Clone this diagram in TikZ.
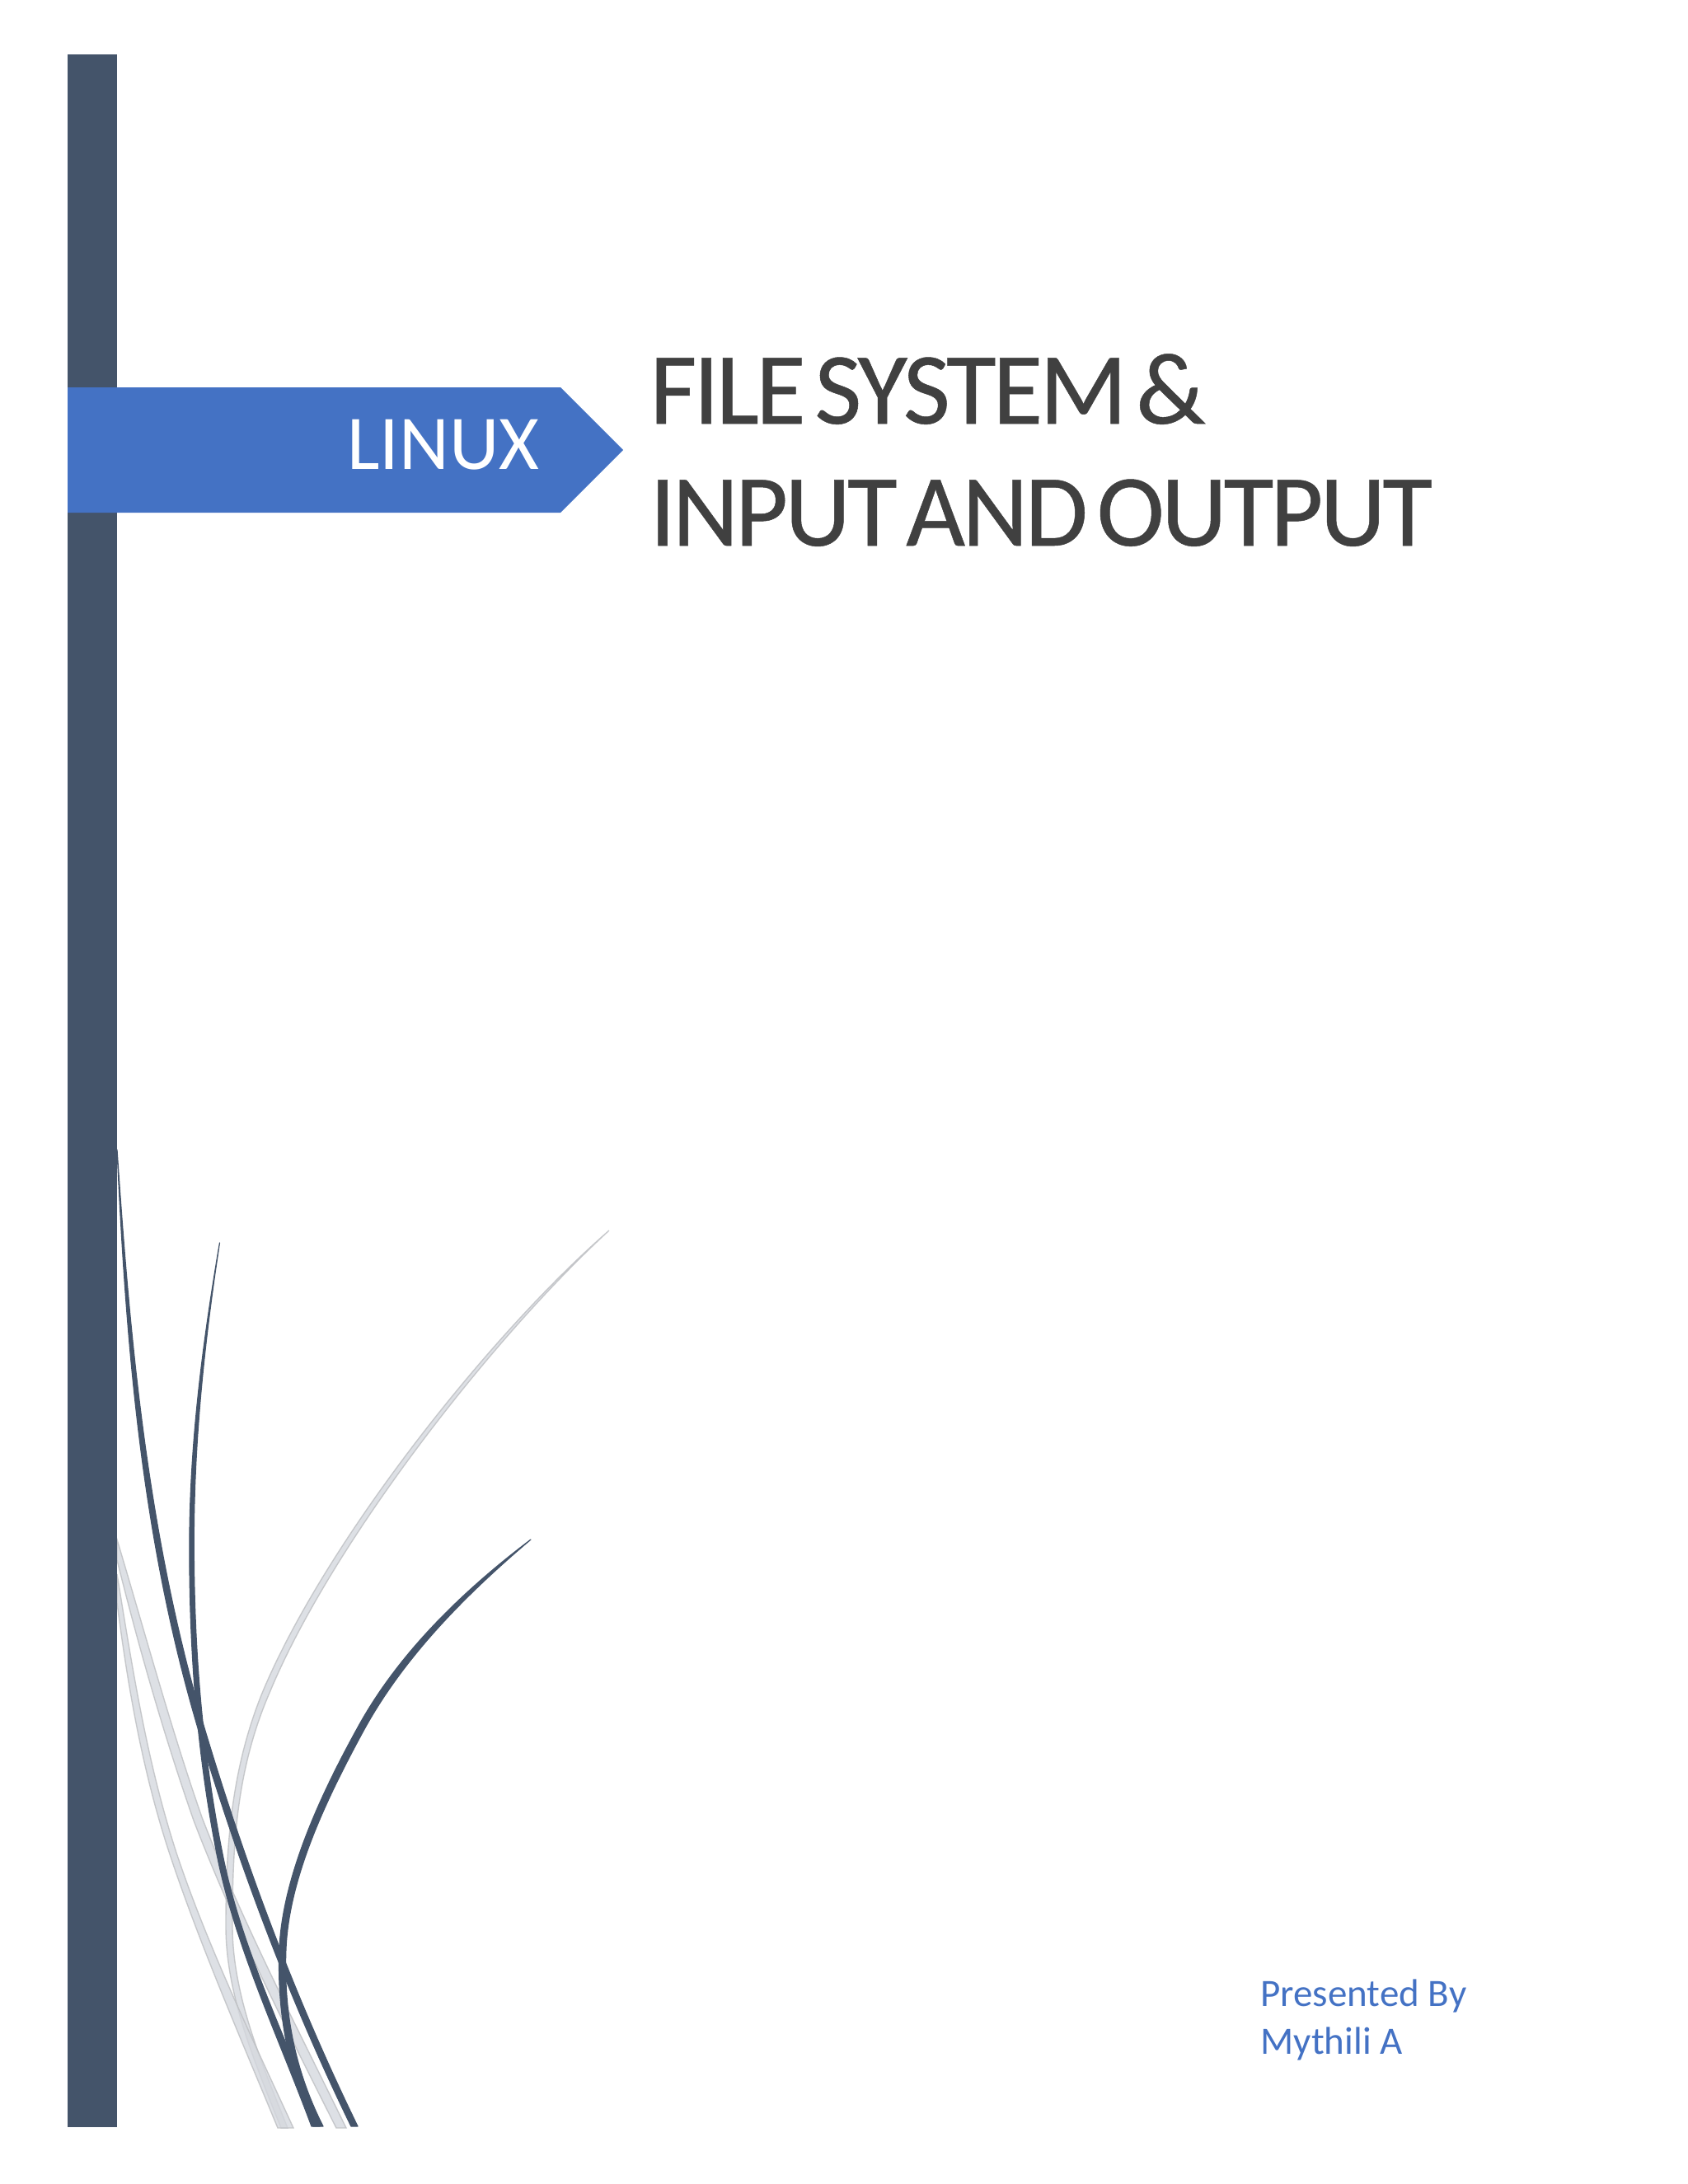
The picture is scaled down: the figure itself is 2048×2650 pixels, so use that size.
\documentclass[tikz,border=0pt]{standalone}
\usepackage{fontspec}
\usepackage{tikz}
\setmainfont{Carlito}
\newfontfamily\headfont[LetterSpace=-3.1,WordSpace=0.45,FakeBold=0.4]{Carlito}
\definecolor{barblue}{HTML}{44546A}
\definecolor{tagblue}{HTML}{4472C4}
\definecolor{headgray}{HTML}{404040}
\definecolor{lightblade}{HTML}{D5D8DE}
\definecolor{lightedge}{HTML}{BDBFC2}
\tikzset{
    darkleaf/.style={fill=barblue, draw=barblue, line width=.6pt, line join=round},
    paleleaf/.style={fill=lightblade, draw=lightedge, line width=.7pt, fill opacity=.8, draw opacity=.8},
    headtext/.style={anchor=base west, inner sep=0, text=headgray, font=\headfont\fontsize{62}{62}\selectfont},
    nametext/.style={anchor=base west, inner sep=0, text=tagblue, font=\fontsize{23.5}{23.5}\selectfont}
}
\begin{document}
\begin{tikzpicture}[x=.5pt,y=-.5pt]
    \useasboundingbox (0,0) rectangle (2048,2650);
    % pale leaves
    \draw[paleleaf] (739,1493) .. controls (596,1624) and (401,1875) .. (327,2054) .. controls (286,2149) and (282,2242) .. (282,2337) .. controls (282,2419) and (316,2500) .. (349,2582)
        -- (341,2582) .. controls (308,2500) and (274,2419) .. (274,2337) .. controls (274,2242) and (280,2147) .. (319,2052) .. controls (395,1871) and (593,1620) .. (739,1493) -- cycle;
    \draw[paleleaf] (142,1868) .. controls (177,1985) and (207,2096) .. (245,2205) .. controls (293,2330) and (358,2455) .. (420,2582)
        -- (408,2582) .. controls (346,2459) and (283,2334) .. (235,2209) .. controls (197,2100) and (167,1993) .. (142,1893) -- cycle;
    \draw[paleleaf] (142,1910) .. controls (162,2033) and (179,2140) .. (214,2248) .. controls (251,2359) and (304,2469) .. (356,2582)
        -- (337,2582) .. controls (292,2473) and (243,2361) .. (206,2250) .. controls (171,2144) and (154,2037) .. (142,1945) -- cycle;
    % dark leaves
    \filldraw[darkleaf] (142,1395) .. controls (158,1630) and (179,1865) .. (249,2100) .. controls (297,2260) and (357,2422) .. (434,2580)
        -- (426,2580) .. controls (349,2422) and (289,2260) .. (241,2100) .. controls (171,1865) and (153,1630) .. (142,1395) -- cycle;
    \filldraw[darkleaf] (266.5,1508) .. controls (247.5,1631) and (235,1753) .. (235.3,1876) .. controls (235.5,2001) and (245.3,2127) .. (270.5,2252) .. controls (292.5,2362) and (346,2472) .. (388,2580)
        -- (378,2580) .. controls (338,2472) and (285.5,2362) .. (263.5,2252) .. controls (238.7,2127) and (229.7,2001) .. (229.9,1876) .. controls (230,1753) and (245.5,1631) .. (266.5,1508) -- cycle;
    \filldraw[darkleaf] (644,1868) .. controls (566,1934) and (490,2010) .. (440.5,2101) .. controls (396,2183) and (351,2277) .. (347,2364) .. controls (344,2437) and (356,2509) .. (392,2580)
        -- (380,2580) .. controls (348,2509) and (336,2437) .. (339,2364) .. controls (343,2275) and (391,2174) .. (433.5,2097) .. controls (483,2006) and (562,1930) .. (644,1868) -- cycle;
    % bar and tag
    \fill[barblue] (82,66) rectangle (142,2581);
    \fill[tagblue] (82,470) -- (680,470) -- (756,546) -- (680,622) -- (82,622) -- cycle;
    \node[anchor=base west, inner sep=0, text=white, font=\fontsize{47}{47}\selectfont] (linux) at (421,569) {LINUX};
    \node[headtext] (headone) at (788,514) {FILE SYSTEM \&};
    \node[headtext] (headtwo) at (788,662) {INPUT AND OUTPUT};
    \node[nametext] (presented) at (1529,2434) {Presented By};
    \node[nametext] (mythili) at (1529,2492) {Mythili A};
\end{tikzpicture}
\end{document}
